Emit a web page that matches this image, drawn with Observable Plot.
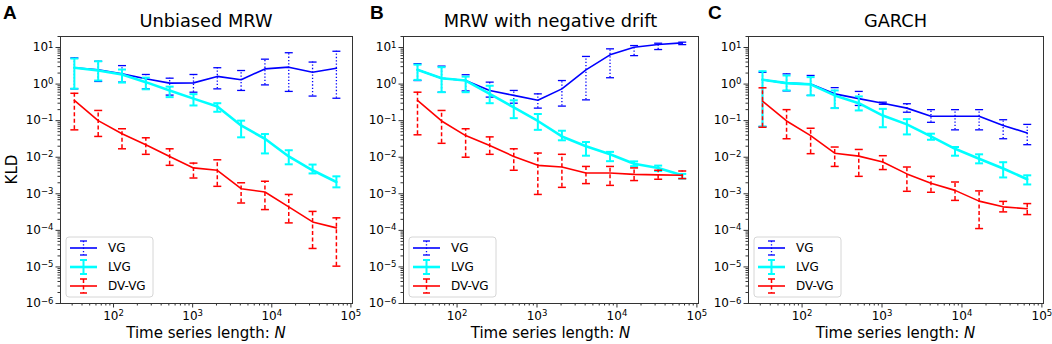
<!DOCTYPE html>
<html><head><meta charset="utf-8">
<script src="https://cdn.jsdelivr.net/npm/d3@7"></script>
<script src="https://cdn.jsdelivr.net/npm/@observablehq/plot@0.6"></script>
<style>
body{margin:0;background:#fff;}
#chart{position:relative;width:1052px;height:344px;font-family:"DejaVu Sans",sans-serif;overflow:hidden;}
#chart svg{position:absolute;top:0;overflow:visible;max-width:none;background:transparent;}
</style></head><body><div id="chart"></div>
<script>
// ---- data ----
const N = [32, 64, 128, 256, 512, 1024, 2048, 4096, 8192, 16384, 32768, 65536];
const seriesNames = ["VG", "LVG", "DV-VG"];
const panelLetters = ["A", "B", "C"];
const panelTitles = ["Unbiased MRW", "MRW with negative drift", "GARCH"];
const yMajorTicks = [1e-6, 1e-5, 1e-4, 1e-3, 1e-2, 1e-1, 1, 10];
const xMajorTicks = [100, 1000, 10000, 100000];

// Panel A
const A_VG     = [2.8, 2.45, 1.9, 1.4, 1.06, 1.08, 1.62, 1.31, 2.6, 2.9, 2.1, 2.7];
const A_VG_lo  = [0.74, 1.18, 1.13, 0.74, 0.5, 0.6, 0.74, 0.67, 0.95, 0.63, 0.47, 0.41];
const A_VG_hi  = [5.2, 4.2, 3.2, 1.83, 1.45, 1.83, 2.8, 2.35, 4.8, 7.2, 4.0, 7.9];
const A_LVG    = [2.8, 2.35, 1.83, 1.13, 0.67, 0.40, 0.245, 0.074, 0.032, 0.0105, 0.0044, 0.0021];
const A_LVG_lo = [0.75, 1.25, 1.1, 0.72, 0.44, 0.26, 0.175, 0.035, 0.0127, 0.0064, 0.0036, 0.0015];
const A_LVG_hi = [5.0, 4.2, 2.5, 1.5, 0.85, 0.53, 0.3, 0.1, 0.043, 0.0155, 0.0063, 0.003];
const A_DV     = [0.356, 0.10, 0.044, 0.022, 0.0105, 0.0051, 0.0044, 0.00138, 0.00112, 0.00044, 0.00017, 0.000117];
const A_DV_lo  = [0.056, 0.037, 0.017, 0.012, 0.006, 0.0027, 0.0016, 0.00056, 0.00037, 0.00016, 0.000032, 0.0000105];
const A_DV_hi  = [0.56, 0.19, 0.06, 0.034, 0.017, 0.0069, 0.0085, 0.002, 0.0022, 0.00096, 0.00033, 0.00022];

// Panel B
const B_VG     = [2.45, 1.45, 1.25, 0.67, 0.49, 0.36, 0.74, 2.45, 6.3, 10.2, 12.1, 13.4];
const B_VG_lo  = [1.25, 0.6, 0.65, 0.44, 0.3, 0.22, 0.25, 0.37, 1.49, 6.0, 8.8, 12];
const B_VG_hi  = [3.6, 3.1, 1.8, 1.13, 0.67, 0.54, 1.25, 5.7, 9.2, 11.3, 13.1, 14];
const B_LVG    = [2.45, 1.45, 1.25, 0.54, 0.23, 0.098, 0.037, 0.02, 0.012, 0.0066, 0.0051, 0.0032];
const B_LVG_lo = [1.3, 0.6, 0.6, 0.3, 0.117, 0.056, 0.029, 0.011, 0.0078, 0.0057, 0.0042, 0.0026];
const B_LVG_hi = [3.4, 2.9, 1.6, 0.9, 0.36, 0.152, 0.053, 0.026, 0.014, 0.0077, 0.0059, 0.0035];
const B_DV     = [0.356, 0.098, 0.039, 0.021, 0.0105, 0.006, 0.0054, 0.0037, 0.0037, 0.0034, 0.0033, 0.0032];
const B_DV_lo  = [0.041, 0.024, 0.01, 0.012, 0.0044, 0.00096, 0.0015, 0.0019, 0.0017, 0.0023, 0.0025, 0.0026];
const B_DV_hi  = [0.6, 0.19, 0.06, 0.036, 0.017, 0.013, 0.012, 0.0056, 0.0056, 0.0051, 0.0044, 0.0042];

// Panel C
const C_VG     = [1.31, 1.06, 1.0, 0.54, 0.40, 0.30, 0.22, 0.132, 0.132, 0.132, 0.074, 0.046];
const C_VG_lo  = [0.069, 0.65, 0.49, 0.22, 0.26, 0.28, 0.17, 0.09, 0.056, 0.056, 0.032, 0.022];
const C_VG_hi  = [2.1, 1.9, 1.72, 0.8, 0.63, 0.32, 0.29, 0.2, 0.2, 0.2, 0.106, 0.079];
const C_LVG    = [1.31, 1.06, 0.98, 0.49, 0.30, 0.138, 0.079, 0.037, 0.017, 0.0091, 0.0049, 0.0025];
const C_LVG_lo = [0.069, 0.67, 0.49, 0.22, 0.19, 0.066, 0.042, 0.03, 0.011, 0.0068, 0.0028, 0.0018];
const C_LVG_hi = [2.25, 1.72, 1.55, 0.67, 0.46, 0.21, 0.11, 0.044, 0.019, 0.012, 0.0073, 0.0032];
const C_DV     = [0.34, 0.098, 0.039, 0.0129, 0.0107, 0.0074, 0.0035, 0.00195, 0.00124, 0.00063, 0.00044, 0.00039];
const C_DV_lo  = [0.066, 0.032, 0.0125, 0.0056, 0.003, 0.0046, 0.00117, 0.0011, 0.00066, 0.000112, 0.00032, 0.00027];
const C_DV_hi  = [0.79, 0.2, 0.062, 0.019, 0.0163, 0.011, 0.0054, 0.003, 0.0021, 0.0012, 0.00062, 0.00054];

// ---- styles ----
const styles = [
  {color: "#0000ff", lw: 1.6, bw: 1.3, dash: "1.3,2"},
  {color: "#00ffff", lw: 2.6, bw: 2.0, dash: null},
  {color: "#ff0000", lw: 1.6, bw: 1.5, dash: "4,2.5"}
];
const layout = [
  {left: 0,   width: 355, ml: 60, mr: 3, letterX: 3},
  {left: 355, width: 347, ml: 48, mr: 4, letterX: 15},
  {left: 702, width: 350, ml: 46, mr: 9, letterX: 6}
];
const panelData = [
  [[A_VG, A_VG_lo, A_VG_hi], [A_LVG, A_LVG_lo, A_LVG_hi], [A_DV, A_DV_lo, A_DV_hi]],
  [[B_VG, B_VG_lo, B_VG_hi], [B_LVG, B_LVG_lo, B_LVG_hi], [B_DV, B_DV_lo, B_DV_hi]],
  [[C_VG, C_VG_lo, C_VG_hi], [C_LVG, C_LVG_lo, C_LVG_hi], [C_DV, C_DV_lo, C_DV_hi]]
];

const yMinorTicks = [];
for (let e = -6; e <= 1; e++) for (let k = 2; k <= 9; k++) { const v = k * 10 ** e; if (v <= 20) yMinorTicks.push(v); }
const xMinorTicks = [];
for (let e = 1; e <= 4; e++) for (let k = 2; k <= 9; k++) { const v = k * 10 ** e; if (v >= 22 && v <= 104000) xMinorTicks.push(v); }

const capSym = {draw(ctx, size) { const r = Math.sqrt(size / Math.PI); ctx.moveTo(-r, 0); ctx.lineTo(r, 0); }};
const expFmt = d => "10|" + Math.round(Math.log10(d));
const FONT = "DejaVu Sans";
const chart = document.getElementById("chart");
const H = 344, MT = 36, MB = 41;

panelData.forEach((series, pi) => {
  const L = layout[pi];
  const marks = [];
  series.forEach(([v, lo, hi], si) => {
    const st = styles[si];
    const rows = N.map((n, i) => ({n, v: v[i], lo: lo[i], hi: hi[i]}));
    marks.push(Plot.ruleX(rows, {x: "n", y1: "lo", y2: "hi", stroke: st.color, strokeWidth: st.bw, strokeDasharray: st.dash}));
    marks.push(Plot.dot(rows, {x: "n", y: "lo", symbol: capSym, r: 4, stroke: st.color, strokeWidth: st.bw, fill: "none"}));
    marks.push(Plot.dot(rows, {x: "n", y: "hi", symbol: capSym, r: 4, stroke: st.color, strokeWidth: st.bw, fill: "none"}));
    marks.push(Plot.line(rows, {x: "n", y: "v", stroke: st.color, strokeWidth: st.lw}));
  });
  marks.push(Plot.axisY(yMajorTicks, {tickSize: 4.5, tickPadding: 2.5, tickFormat: expFmt, label: null, stroke: "#333", fill: "#000", fontSize: 12}));
  marks.push(Plot.axisY(yMinorTicks, {tickSize: 2.5, tickFormat: () => "", label: null, stroke: "#333"}));
  marks.push(Plot.axisX(xMajorTicks, {tickSize: 4.5, tickPadding: 3.5, tickFormat: expFmt, label: null, stroke: "#333", fill: "#000", fontSize: 12}));
  marks.push(Plot.axisX(xMinorTicks, {tickSize: 2.5, tickFormat: () => "", label: null, stroke: "#333"}));
  marks.push(Plot.frame({stroke: "#333", strokeWidth: 1}));

  const svg = Plot.plot({
    width: L.width, height: H,
    marginLeft: L.ml, marginRight: L.mr, marginTop: MT, marginBottom: MB,
    style: {fontFamily: FONT, fontSize: "12px", background: "transparent", overflow: "visible"},
    x: {type: "log", domain: [10 ** 1.33, 10 ** 5.02]},
    y: {type: "log", domain: [1e-6, 20]},
    marks
  });
  svg.style.left = L.left + "px";
  chart.appendChild(svg);

  // superscript tick labels
  svg.querySelectorAll("text").forEach(t => {
    const m = t.textContent.match(/^10\|(-?\d+)$/);
    if (!m) return;
    t.textContent = "";
    const ns = "http://www.w3.org/2000/svg";
    const a = document.createElementNS(ns, "tspan"); a.textContent = "10"; t.appendChild(a);
    const b = document.createElementNS(ns, "tspan"); b.textContent = m[1].replace("-", "\u2212");
    b.setAttribute("font-size", "8.5px"); b.setAttribute("dy", "-0.45em"); t.appendChild(b);
  });

  const s = d3.select(svg);
  const fx0 = L.ml, fx1 = L.width - L.mr, fcx = (fx0 + fx1) / 2;
  s.append("text").attr("x", L.letterX).attr("y", 19).attr("text-anchor", "start").text(panelLetters[pi])
    .attr("font-family", "Liberation Sans, Arial, sans-serif").attr("font-weight", "bold").attr("font-size", 19).attr("fill", "#000");
  s.append("text").attr("x", fcx).attr("y", 26.5).attr("text-anchor", "middle").text(panelTitles[pi])
    .attr("font-family", FONT).attr("font-size", 17.8).attr("fill", "#000");
  const xl = s.append("text").attr("x", fcx).attr("y", 338).attr("text-anchor", "middle")
    .attr("font-family", FONT).attr("font-size", 15).attr("fill", "#000");
  xl.append("tspan").text("Time series length: ");
  xl.append("tspan").attr("font-style", "italic").text("N");
  if (pi === 0) {
    s.append("text").attr("transform", `translate(17,${(MT + H - MB) / 2}) rotate(-90)`).attr("text-anchor", "middle")
      .attr("font-family", FONT).attr("font-size", 15).attr("fill", "#000").text("KLD");
  }
  // legend
  const bx = fx0 + 6, bw = 87, bh = 60, by = H - MB - 6 - bh;
  const g = s.append("g");
  g.append("rect").attr("x", bx).attr("y", by).attr("width", bw).attr("height", bh).attr("rx", 3)
    .attr("fill", "#fff").attr("fill-opacity", 0.8).attr("stroke", "#d6d6d6").attr("stroke-width", 1);
  seriesNames.forEach((name, si) => {
    const st = styles[si];
    const cy = by + 11 + si * 19;
    const hx0 = bx + 4, hx1 = bx + 31, hcx = (hx0 + hx1) / 2;
    g.append("line").attr("x1", hx0).attr("x2", hx1).attr("y1", cy).attr("y2", cy).attr("stroke", st.color).attr("stroke-width", st.lw);
    g.append("line").attr("x1", hcx).attr("x2", hcx).attr("y1", cy - 7).attr("y2", cy + 7).attr("stroke", st.color)
      .attr("stroke-width", st.bw).attr("stroke-dasharray", st.dash);
    [cy - 7, cy + 7].forEach(yy => g.append("line").attr("x1", hcx - 3.5).attr("x2", hcx + 3.5).attr("y1", yy).attr("y2", yy)
      .attr("stroke", st.color).attr("stroke-width", st.bw));
    g.append("text").attr("x", bx + 42).attr("y", cy).attr("dy", "0.35em").attr("text-anchor", "start")
      .attr("font-family", FONT).attr("font-size", 12).attr("fill", "#000").text(name);
  });
});
</script></body></html>
